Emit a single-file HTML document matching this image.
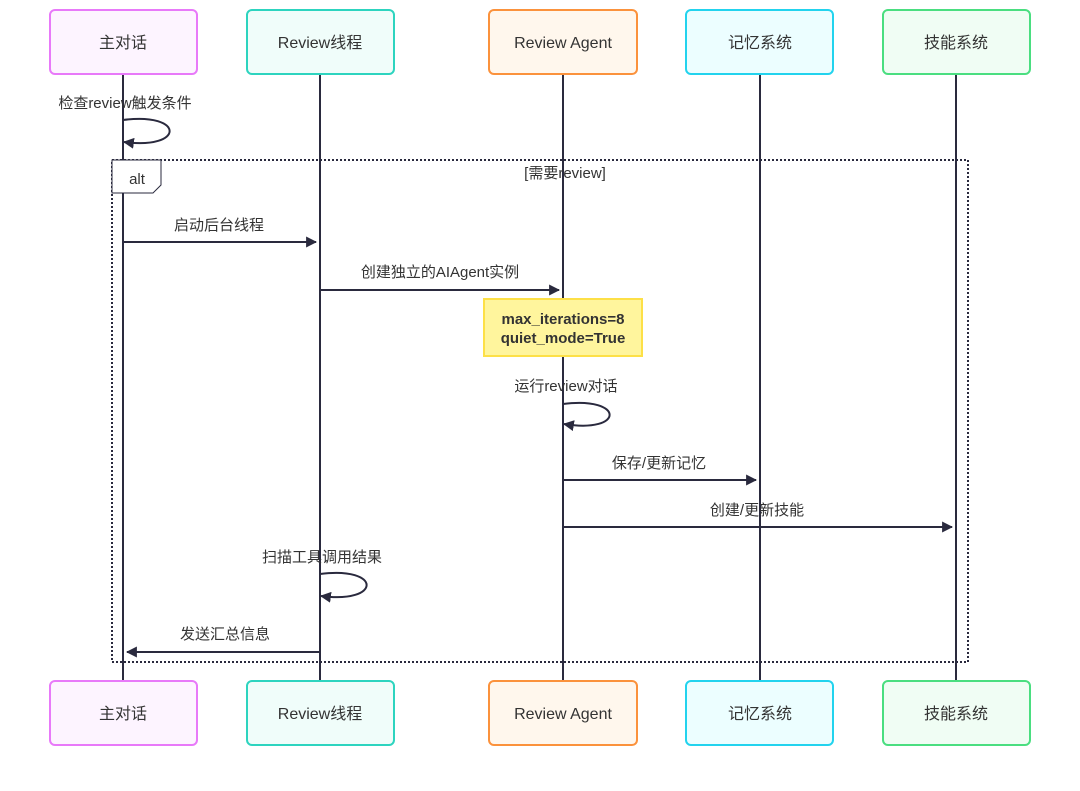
<!DOCTYPE html>
<html><head><meta charset="utf-8"><style>
html,body{margin:0;padding:0;background:#fff;}
svg text{font-family:"Liberation Sans","Noto Sans CJK SC",sans-serif;fill:#333;}
</style></head><body>
<svg width="1080" height="786" viewBox="0 0 1080 786" xmlns="http://www.w3.org/2000/svg">
<defs>
<marker id="ah" viewBox="0 0 10 10" refX="9" refY="5" markerWidth="11" markerHeight="11" markerUnits="userSpaceOnUse" orient="auto"><path d="M0,0 L10,5 L0,10 z" fill="#2a2a3e"/></marker>
</defs>
<g stroke="#2a2a3e" stroke-width="2">
<line x1="123" y1="74" x2="123" y2="681"/>
<line x1="320" y1="74" x2="320" y2="681"/>
<line x1="563" y1="74" x2="563" y2="681"/>
<line x1="760" y1="74" x2="760" y2="681"/>
<line x1="956" y1="74" x2="956" y2="681"/>
</g>
<rect x="112" y="160" width="856" height="502" fill="none" stroke="#2a2a3e" stroke-width="2" stroke-dasharray="2,2"/>
<path d="M112,160 H161 V185 L153,193 H112 Z" fill="#fff" stroke="#2a2a3e" stroke-width="1"/>
<text x="137" y="184" font-size="15" text-anchor="middle">alt</text>
<text x="565" y="178" font-size="15" text-anchor="middle">[需要review]</text>
<g stroke-width="2">
<rect x="50" y="10" width="147" height="64" rx="5" fill="#fdf4ff" stroke="#e879f9"/>
<rect x="247" y="10" width="147" height="64" rx="5" fill="#f0fdfa" stroke="#2dd4bf"/>
<rect x="489" y="10" width="148" height="64" rx="5" fill="#fff7ed" stroke="#fb923c"/>
<rect x="686" y="10" width="147" height="64" rx="5" fill="#ecfeff" stroke="#22d3ee"/>
<rect x="883" y="10" width="147" height="64" rx="5" fill="#f0fdf4" stroke="#4ade80"/>
<rect x="50" y="681" width="147" height="64" rx="5" fill="#fdf4ff" stroke="#e879f9"/>
<rect x="247" y="681" width="147" height="64" rx="5" fill="#f0fdfa" stroke="#2dd4bf"/>
<rect x="489" y="681" width="148" height="64" rx="5" fill="#fff7ed" stroke="#fb923c"/>
<rect x="686" y="681" width="147" height="64" rx="5" fill="#ecfeff" stroke="#22d3ee"/>
<rect x="883" y="681" width="147" height="64" rx="5" fill="#f0fdf4" stroke="#4ade80"/>
</g>
<g font-size="16" text-anchor="middle">
<text x="123" y="48">主对话</text><text x="320" y="48">Review线程</text><text x="563" y="48">Review Agent</text><text x="760" y="48">记忆系统</text><text x="956" y="48">技能系统</text>
<text x="123" y="719">主对话</text><text x="320" y="719">Review线程</text><text x="563" y="719">Review Agent</text><text x="760" y="719">记忆系统</text><text x="956" y="719">技能系统</text>
</g>
<g stroke="#2a2a3e" stroke-width="2" fill="none">
<path d="M123,120 C185,112 185,150 124,142" marker-end="url(#ah)"/>
<line x1="123" y1="242" x2="316" y2="242" marker-end="url(#ah)"/>
<line x1="320" y1="290" x2="559" y2="290" marker-end="url(#ah)"/>
<path d="M563,404 C625,396 625,434 564,424" marker-end="url(#ah)"/>
<line x1="563" y1="480" x2="756" y2="480" marker-end="url(#ah)"/>
<line x1="563" y1="527" x2="952" y2="527" marker-end="url(#ah)"/>
<path d="M320,574 C382,566 382,604 321,596" marker-end="url(#ah)"/>
<line x1="320" y1="652" x2="127" y2="652" marker-end="url(#ah)"/>
</g>
<g font-size="15" text-anchor="middle">
<text x="125" y="108">检查review触发条件</text>
<text x="219" y="230">启动后台线程</text>
<text x="440" y="277">创建独立的AIAgent实例</text>
<text x="566" y="391">运行review对话</text>
<text x="659" y="468">保存/更新记忆</text>
<text x="757" y="515">创建/更新技能</text>
<text x="322" y="562">扫描工具调用结果</text>
<text x="225" y="639">发送汇总信息</text>
</g>
<rect x="484" y="299" width="158" height="57" fill="#fff59d" stroke="#fde047" stroke-width="2"/>
<text x="563" y="324" font-size="15" font-weight="bold" text-anchor="middle">max_iterations=8</text>
<text x="563" y="343" font-size="15" font-weight="bold" text-anchor="middle">quiet_mode=True</text>
</svg>
</body></html>
